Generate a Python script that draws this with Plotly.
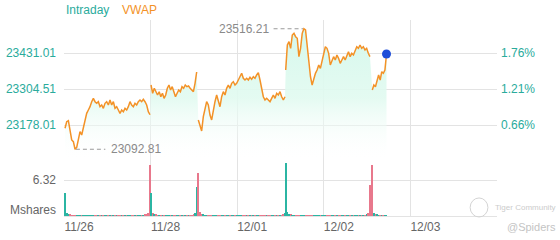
import numpy as np
import plotly.graph_objects as go

# ---------------- data ----------------
day_labels = ["11/26", "11/28", "12/01", "12/02", "12/03", ""]
day_ticks = [0, 1, 2, 3, 4, 5]

# session start / end positions on the day axis
session_start = [0.012, 1.005, 1.551, 2.560, 3.560]
session_end = [0.993, 1.532, 2.552, 3.533, 3.724]

price_s1 = [23166.4, 23189.6, 23193.1, 23154.5, 23125.3, 23119.3, 23092.81, 23099.6, 23125.3, 23154.5,
            23142.9, 23166.4, 23189.6, 23219.1, 23230.7, 23242.3, 23259.9, 23271.8, 23259.9, 23254.2,
            23259.9, 23242.3, 23248.3, 23236.7, 23254.2, 23259.9, 23248.3, 23265.8, 23248.3, 23259.9,
            23236.7, 23242.3, 23230.7, 23219.1, 23230.7, 23224.7, 23236.7, 23230.7, 23242.3, 23259.9,
            23248.3, 23242.3, 23254.2, 23248.3, 23259.9, 23265.8, 23259.9, 23268.3, 23259.9, 23248.3,
            23224.7, 23214.0]
price_s2 = [23318.6, 23289.4, 23307.0, 23295.0, 23283.4, 23295.0, 23277.4, 23289.4, 23271.8, 23283.4,
            23307.0, 23318.6, 23301.0, 23312.6, 23295.0, 23277.4, 23289.4, 23301.0, 23295.0, 23312.6,
            23307.0, 23318.6, 23312.6, 23315.0, 23307.0, 23301.0, 23295.0, 23324.5, 23364.2]
price_s3 = [23195.6, 23178.0, 23156.9, 23207.2, 23236.7, 23259.9, 23248.3, 23213.1, 23195.6, 23230.7,
            23259.9, 23283.4, 23265.8, 23242.3, 23277.4, 23295.0, 23283.4, 23307.0, 23318.6, 23307.0,
            23324.5, 23330.1, 23318.6, 23324.5, 23336.1, 23347.7, 23359.7, 23342.1, 23336.1, 23342.1,
            23336.1, 23345.6, 23338.6, 23347.7, 23342.1, 23353.7, 23361.8, 23336.1, 23307.0, 23277.4,
            23265.8, 23271.8, 23265.8, 23259.9, 23271.8, 23283.4, 23271.8, 23289.4, 23283.4, 23295.0,
            23277.4, 23265.8, 23277.4]
price_s4 = [23371.3, 23459.1, 23470.7, 23447.5, 23494.3, 23500.2, 23488.3, 23482.7, 23418.0, 23447.5,
            23500.2, 23516.21, 23511.8, 23447.5, 23382.9, 23347.7, 23318.6, 23342.1, 23359.7, 23371.3,
            23388.8, 23377.2, 23406.4, 23435.6, 23453.1, 23447.5, 23429.9, 23388.8, 23406.4, 23418.0,
            23406.4, 23424.0, 23412.4, 23394.8, 23406.4, 23418.0, 23406.4, 23424.0, 23435.6, 23418.0,
            23429.9, 23424.0, 23441.5, 23453.1, 23447.5, 23459.1, 23447.5, 23453.1, 23441.5, 23447.5,
            23429.9, 23418.0]
price_s5 = [23301.0, 23318.6, 23312.6, 23330.1, 23353.7, 23336.1, 23365.3, 23359.7, 23371.3, 23427.5]

vol_s1 = [4.1, 0.6, 0.3, 0.2, 0.15, 0.12, 0.12, 0.12, 0.12, 0.12,
          0.12, 0.12, 0.12, 0.12, 0.12, 0.12, 0.12, 0.12, 0.12, 0.12,
          0.12, 0.12, 0.12, 0.12, 0.12, 0.12, 0.12, 0.12, 0.12, 0.12,
          0.12, 0.12, 0.12, 0.12, 0.12, 0.12, 0.12, 0.12, 0.12, 0.12,
          0.12, 0.12, 0.12, 0.12, 0.12, 0.12, 0.12, 0.15, 0.2, 0.3,
          0.6, 8.9]
vol_s2 = [4.0, 0.5, 0.3, 0.2, 0.15, 0.12, 0.12, 0.12, 0.12, 0.12,
          0.12, 0.12, 0.12, 0.12, 0.12, 0.12, 0.12, 0.12, 0.12, 0.12,
          0.12, 0.12, 0.12, 0.12, 0.12, 0.15, 0.2, 0.5, 5.1]
vol_s3 = [7.5, 0.7, 0.4, 0.25, 0.15, 0.12, 0.12, 0.12, 0.12, 0.12,
          0.12, 0.12, 0.12, 0.12, 0.12, 0.12, 0.12, 0.12, 0.12, 0.12,
          0.12, 0.12, 0.12, 0.12, 0.12, 0.12, 0.12, 0.12, 0.12, 0.12,
          0.12, 0.12, 0.12, 0.12, 0.12, 0.12, 0.12, 0.12, 0.12, 0.12,
          0.12, 0.12, 0.12, 0.12, 0.12, 0.12, 0.12, 0.12, 0.12, 0.12,
          0.15, 0.25, 0.5]
vol_s4 = [9.3, 0.7, 0.4, 0.25, 0.15, 0.12, 0.12, 0.12, 0.12, 0.12,
          0.12, 0.12, 0.12, 0.12, 0.12, 0.12, 0.12, 0.12, 0.12, 0.12,
          0.12, 0.12, 0.12, 0.12, 0.12, 0.12, 0.12, 0.12, 0.12, 0.12,
          0.12, 0.12, 0.12, 0.12, 0.12, 0.12, 0.12, 0.12, 0.12, 0.12,
          0.12, 0.12, 0.12, 0.12, 0.12, 0.12, 0.12, 0.12, 0.15, 0.25,
          0.5, 5.5]
vol_s5 = [8.9, 0.6, 0.3, 0.2, 0.15, 0.12, 0.12, 0.12, 0.12, 0.12]

price_ticks = [23178.01, 23304.51, 23431.01]
price_tick_labels = ["23178.01", "23304.51", "23431.01"]
pct_tick_labels = ["0.66%", "1.21%", "1.76%"]
vol_ticks = [6.32]
vol_tick_labels = ["6.32"]
vol_unit = "Mshares"

# ---------------- build ----------------
prices = [price_s1, price_s2, price_s3, price_s4, price_s5]
vols = [vol_s1, vol_s2, vol_s3, vol_s4, vol_s5]

xs = [np.linspace(a, b, len(p)) for a, b, p in zip(session_start, session_end, prices)]

x_all = np.concatenate(xs)
p_all = np.concatenate(prices)
v_all = np.concatenate(vols)

# line with gaps between sessions
x_line, p_line = [], []
for x, p in zip(xs, prices):
    x_line += list(x) + [None]
    p_line += list(p) + [None]

TEAL = "#2aab9c"
ORANGE = "#f39227"
UP = "#2bb5a3"
DOWN = "#e8788c"
vol_colors = [UP] + [UP if p_all[i] >= p_all[i - 1] else DOWN for i in range(1, len(p_all))]

# axis ranges (pixel-calibrated)
p_lo, p_hi = 22858.25, 23546.97
v_hi = 34.41

fig = go.Figure()

fig.add_trace(go.Scatter(
    x=x_all, y=p_all, mode="none", fill="tozeroy",
    fillgradient=dict(type="vertical", start=23050, stop=p_hi,
                      colorscale=[[0, "rgba(255,255,255,0)"], [0.45, "rgba(225,250,240,0.9)"],
                                  [1, "rgba(212,248,235,1)"]]),
    hoverinfo="skip", showlegend=False, yaxis="y"))

fig.add_trace(go.Bar(
    x=x_all, y=v_all, marker=dict(color=vol_colors, line=dict(width=0)),
    width=0.009, showlegend=False, yaxis="y3"))

fig.add_trace(go.Scatter(
    x=x_line, y=p_line, mode="lines", connectgaps=False,
    line=dict(color=ORANGE, width=1.5), showlegend=False, yaxis="y"))

fig.add_trace(go.Scatter(
    x=[x_all[-1]], y=[p_all[-1]], mode="markers",
    marker=dict(color="#1f4ed8", size=9), showlegend=False, yaxis="y"))

# invisible trace so right axis is drawn
fig.add_trace(go.Scatter(x=[x_all[0]], y=[p_all[0]], mode="markers",
                         marker=dict(opacity=0), showlegend=False, yaxis="y2", hoverinfo="skip"))

# max / min markers
i_max = int(np.argmax(p_all))
i_min = int(np.argmin(p_all))
x_max, y_max = x_all[i_max], p_all[i_max]
x_min, y_min = x_all[i_min], p_all[i_min]
seg_len = 0.35

shapes = [
    dict(type="line", xref="x", yref="y", x0=x_max - seg_len, x1=x_max - 0.01, y0=y_max, y1=y_max,
         line=dict(color="#9a9a9a", width=1.2, dash="4px,3px")),
    dict(type="line", xref="x", yref="y", x0=x_min + 0.01, x1=x_min + seg_len, y0=y_min, y1=y_min,
         line=dict(color="#9a9a9a", width=1.2, dash="4px,3px")),
    # watermark logo
    dict(type="circle", xref="paper", yref="paper", x0=0.938, x1=0.979, y0=-0.005, y1=0.092,
         line=dict(color="#d4d4d4", width=1)),
]

font_main = "Arial, Liberation Sans, sans-serif"
annotations = [
    dict(x=x_max - seg_len, y=y_max, xref="x", yref="y", text=f"{y_max:.2f}", showarrow=False,
         xanchor="right", yanchor="middle", xshift=-3, font=dict(color="#8a8a8a", size=12)),
    dict(x=x_min + seg_len, y=y_min, xref="x", yref="y", text=f"{y_min:.2f}", showarrow=False,
         xanchor="left", yanchor="middle", xshift=4, font=dict(color="#8a8a8a", size=12)),
    dict(x=0, y=1.051, xref="paper", yref="paper", text="Intraday", showarrow=False,
         xanchor="left", yanchor="middle", font=dict(color=TEAL, size=12)),
    dict(x=0.129, y=1.051, xref="paper", yref="paper", text="VWAP", showarrow=False,
         xanchor="left", yanchor="middle", font=dict(color=ORANGE, size=12)),
    dict(x=0, y=0, xref="paper", yref="y3", text=vol_unit, showarrow=False,
         xanchor="right", yanchor="middle", xshift=-6, yshift=6, font=dict(color="#666", size=12)),
    dict(x=0.99, y=0.045, xref="paper", yref="paper", text="Tiger Community", showarrow=False,
         xanchor="left", yanchor="middle", font=dict(color="#cccccc", size=8)),
    dict(x=1.0, y=-0.056, xref="paper", yref="paper", text="@Spiders", showarrow=False,
         xanchor="left", yanchor="middle", xshift=8, font=dict(color="#c4c4c4", size=11)),
]

GRID = "#e3e3e3"
fig.update_layout(
    width=560, height=240,
    margin=dict(l=64, r=63, t=20, b=24, autoexpand=False),
    paper_bgcolor="white", plot_bgcolor="white",
    font=dict(family=font_main, size=12, color="#666"),
    bargap=0, showlegend=False,
    shapes=shapes, annotations=annotations,
    xaxis=dict(range=[0, 5], tickvals=day_ticks, ticktext=day_labels, automargin=False,
               showgrid=True, gridcolor=GRID, gridwidth=1, zeroline=False,
               showline=True, linecolor=GRID, ticks="", ticklabelshift=15,
               tickfont=dict(color="#666", size=12)),
    yaxis=dict(range=[p_lo, p_hi], tickvals=price_ticks, ticktext=price_tick_labels,
               automargin=False, showgrid=True, gridcolor=GRID, zeroline=False, ticks="",
               ticklabelstandoff=7, tickfont=dict(color=TEAL, size=12)),
    yaxis2=dict(range=[p_lo, p_hi], overlaying="y", side="right", tickvals=price_ticks,
                ticktext=pct_tick_labels, showgrid=False, zeroline=False, ticks="",
                automargin=False, ticklabelstandoff=3, tickfont=dict(color=TEAL, size=12)),
    yaxis3=dict(range=[0, v_hi], overlaying="y", side="left", tickvals=vol_ticks,
                ticktext=vol_tick_labels, showgrid=True, gridcolor=GRID, zeroline=False,
                automargin=False, ticks="", ticklabelstandoff=7, tickfont=dict(color="#666", size=12)),
)

fig.write_html("out.html")
